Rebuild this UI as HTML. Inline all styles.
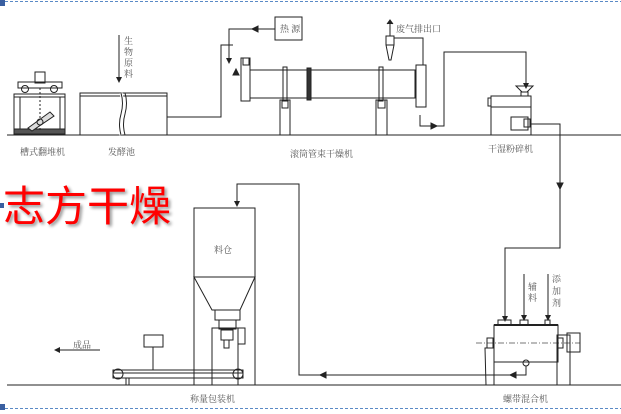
<!DOCTYPE html>
<html><head><meta charset="utf-8"><style>
html,body{margin:0;padding:0;background:#fff;width:621px;height:414px;overflow:hidden}
svg{display:block}
text{font-family:"Liberation Serif","Noto Serif CJK SC",serif;fill:#555;font-size:9px}
</style></head><body>
<svg width="621" height="414" viewBox="0 0 621 414" xmlns="http://www.w3.org/2000/svg">
<defs>
<marker id="a" markerWidth="6" markerHeight="6" refX="5" refY="3" orient="auto" markerUnits="userSpaceOnUse"><path d="M0,0 L6,3 L0,6z" fill="#222"/></marker>
<filter id="sh"><feGaussianBlur stdDeviation="1.5"/></filter>
</defs>
<g stroke="#5a8ac6" stroke-width="1" stroke-dasharray="3,2">
<line x1="0" y1="1.5" x2="621" y2="1.5"/><line x1="0" y1="408.5" x2="621" y2="408.5"/>
</g>
<rect x="0" y="0" width="5" height="6" fill="#3a5fa0"/>
<rect x="0" y="404" width="5" height="6" fill="#3a5fa0"/>
<rect x="0" y="203" width="4" height="5" fill="#3a5fa0"/>
<g stroke="#222" stroke-width="1" fill="none">
<line x1="7" y1="135" x2="621" y2="135"/><line x1="7" y1="385" x2="621" y2="385"/>
<rect x="14" y="94" width="51" height="41"/><rect x="18" y="82" width="44" height="6"/>
<line x1="14" y1="97" x2="65" y2="97"/><line x1="20" y1="97" x2="20" y2="131"/><line x1="60" y1="97" x2="60" y2="131"/>
<circle cx="25" cy="89" r="3.5"/><circle cx="54" cy="89" r="3.5"/>
<rect x="35" y="72" width="10" height="11"/><rect x="14" y="129" width="51" height="5" fill="#555"/>
<line x1="40" y1="88" x2="40" y2="130" stroke-dasharray="2,2"/>
<path d="M28,128 L50,112 L54,116 L32,131z" fill="#ddd"/><circle cx="40" cy="122" r="3"/>
<rect x="80" y="93" width="87" height="42"/><line x1="80" y1="96" x2="167" y2="96"/>
<path d="M121,93 q3,10 0,21 q-3,10 0,21" stroke="#fff" stroke-width="3"/>
<path d="M121,93 q3,10 0,21 q-3,10 0,21"/><path d="M125,93 q3,10 0,21 q-3,10 0,21"/>
<line x1="119" y1="35" x2="119" y2="82" marker-end="url(#a)"/>
<polyline points="167,117 221,117 221,45 233,45"/>
<polyline points="275,29 229,29 229,63" marker-end="url(#a)"/>
<path d="M252,29 l6,-3 v6z" fill="#222"/>
<path d="M233,75 l3,-6 l3,6z" fill="#222"/>
<rect x="275" y="17" width="27" height="23"/>
<rect x="241" y="58" width="9" height="43"/><rect x="243" y="58" width="6" height="7"/>
<rect x="250" y="70" width="165" height="28"/><rect x="307" y="68" width="4" height="32" fill="#333"/>
<rect x="283" y="67" width="4" height="34"/><rect x="280" y="100" width="10" height="35"/><rect x="282" y="100" width="6" height="8"/>
<rect x="379" y="67" width="4" height="34"/><rect x="376" y="100" width="11" height="35"/><rect x="378" y="100" width="7" height="8"/>
<rect x="416" y="65" width="10" height="42"/>
<line x1="390" y1="24" x2="390" y2="36"/><path d="M387,24 l3,-4 l3,4" fill="#222"/>
<path d="M386,36 h8 v9 l-3,15 h-2 l-3,-15z"/><line x1="386" y1="45" x2="394" y2="45"/>
<polyline points="394,38 423,38 423,65"/>
<polyline points="420,115 420,126 444,126 444,52 526,52 526,88" marker-end="url(#a)"/>
<path d="M437,126 l-6,-3 v6z" fill="#222"/>
<path d="M516,86 h17 l-6,6 h-5z"/><rect x="521" y="92" width="7" height="4"/>
<rect x="491" y="96" width="40" height="39"/><rect x="488" y="98" width="3" height="8"/>
<line x1="491" y1="107" x2="531" y2="107"/>
<rect x="511" y="117" width="17" height="13"/><rect x="524" y="119" width="6" height="8"/>
<polyline points="530,124 560,124 560,248 505,248 505,321" marker-end="url(#a)"/>
<path d="M557,183 h6 l-3,6z" fill="#222"/>
<rect x="494" y="325" width="64" height="37"/><line x1="494" y1="325" x2="558" y2="325" stroke-width="2"/>
<rect x="498" y="320" width="13" height="5"/><rect x="520" y="320" width="8" height="5"/><rect x="545" y="320" width="5" height="5"/>
<line x1="524" y1="274" x2="524" y2="320" marker-end="url(#a)"/><line x1="548" y1="274" x2="548" y2="320" marker-end="url(#a)"/>
<line x1="476" y1="343" x2="580" y2="343" stroke-dasharray="6,2,1,2" stroke="#777"/>
<path d="M485,348 h9 v37 h-8z"/><rect x="487" y="338" width="6" height="10"/>
<rect x="557" y="335" width="13" height="50"/><rect x="558" y="338" width="5" height="10"/><rect x="567" y="333" width="13" height="19"/>
<circle cx="526" cy="363" r="3"/>
<polyline points="526,366 526,375 299,375 299,184 237,184 237,206" marker-end="url(#a)"/>
<path d="M510,375 l6,-3 v6z" fill="#222"/><path d="M320,375 l6,-3 v6z" fill="#222"/>
<rect x="194" y="208" width="61" height="69"/>
<path d="M194,277 h61 l-15,33 h-28z"/><line x1="194" y1="277" x2="194" y2="385"/><line x1="255" y1="277" x2="255" y2="385"/>
<rect x="215" y="310" width="25" height="10"/><rect x="219" y="320" width="17" height="9"/>
<rect x="212" y="328" width="26" height="57"/><rect x="238" y="328" width="7" height="16"/>
<rect x="221" y="330" width="12" height="10"/><rect x="224" y="340" width="5" height="8"/>
<rect x="113" y="370" width="130" height="8"/><line x1="113" y1="373" x2="243" y2="373"/>
<circle cx="118" cy="374" r="5"/><circle cx="238" cy="374" r="5"/>
<rect x="126" y="378" width="3" height="7"/>
<rect x="144" y="335" width="19" height="12"/><line x1="153" y1="347" x2="153" y2="370"/>
<line x1="100" y1="350" x2="55" y2="350" marker-end="url(#a)"/>
</g>
<text x="280" y="32">热 源</text>
<text x="396" y="32">废气排出口</text>
<text x="124" y="44">生</text><text x="124" y="55">物</text><text x="124" y="66">原</text><text x="124" y="77">料</text>
<text x="20" y="155">槽式翻堆机</text>
<text x="108" y="155">发酵池</text>
<text x="290" y="157">滚筒管束干燥机</text>
<text x="488" y="152">干湿粉碎机</text>
<text x="214" y="253">料仓</text>
<text x="73" y="348">成品</text>
<text x="190" y="402">称量包装机</text>
<text x="503" y="402">螺带混合机</text>
<text x="528" y="290">辅</text><text x="528" y="301">料</text>
<text x="552" y="282">添</text><text x="552" y="294">加</text><text x="552" y="306">剂</text>
<text x="5" y="223" style="font-family:'Liberation Sans','Noto Sans CJK SC',sans-serif;font-size:42px;fill:#000;opacity:.45" filter="url(#sh)">志方干燥</text>
<text x="3" y="221" style="font-family:'Liberation Sans','Noto Sans CJK SC',sans-serif;font-size:42px;fill:#f00">志方干燥</text>
</svg>
</body></html>
